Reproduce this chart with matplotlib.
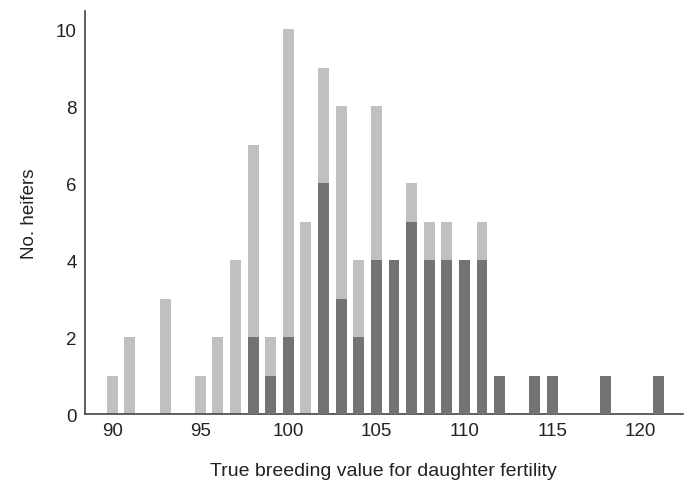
import matplotlib
matplotlib.use("Agg")
import matplotlib.pyplot as plt

plt.rcParams['font.family'] = ['Liberation Sans', 'DejaVu Sans']

# breeding values and counts
values = [90, 91, 93, 95, 96, 97, 98, 99, 100, 101, 102, 103, 104, 105, 106,
          107, 108, 109, 110, 111, 112, 114, 115, 118, 121]
total = [1, 2, 3, 1, 2, 4, 7, 2, 10, 5, 9, 8, 4, 8, 4,
         6, 5, 5, 4, 5, 1, 1, 1, 1, 1]
subset = [0, 0, 0, 0, 0, 0, 2, 1, 2, 0, 6, 3, 2, 4, 4,
          5, 4, 4, 4, 4, 1, 1, 1, 1, 1]

fig = plt.figure(figsize=(6.91, 4.81), dpi=100)
ax = fig.add_axes([0.123, 0.137, 0.865, 0.838])

ax.bar(values, total, width=0.62, color="#c0c0c0", zorder=2)
ax.bar(values, subset, width=0.62, color="#737373", zorder=3)

ax.set_xlim(88.45, 122.4)
ax.set_ylim(0, 10.47)
ax.set_xticks([90, 95, 100, 105, 110, 115, 120])
ax.set_yticks([0, 2, 4, 6, 8, 10])
ax.tick_params(length=0, labelsize=13.5, colors="#222222", pad=6)

for s in ["top", "right"]:
    ax.spines[s].set_visible(False)
for s in ["left", "bottom"]:
    ax.spines[s].set_color("#444444")
    ax.spines[s].set_linewidth(1.2)

ax.set_xlabel("True breeding value for daughter fertility", fontsize=14, labelpad=16, color="#222222")
ax.set_ylabel("No. heifers", fontsize=13.5, labelpad=13, color="#222222")

plt.savefig("out.png", dpi=100)
